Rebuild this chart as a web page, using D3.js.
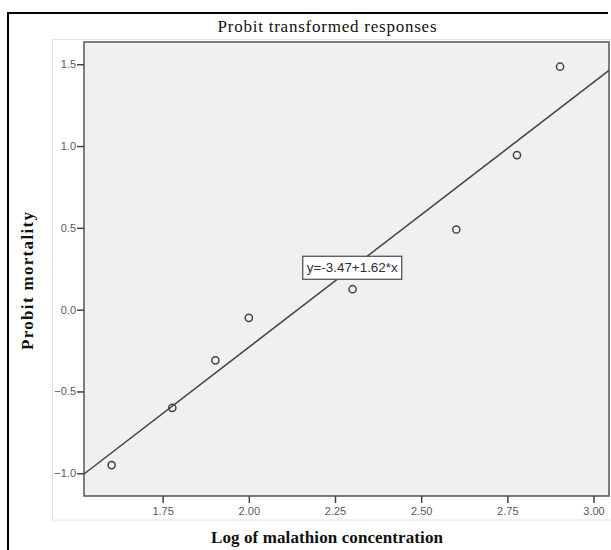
<!DOCTYPE html>
<html>
<head>
<meta charset="utf-8">
<script src="https://cdn.jsdelivr.net/npm/d3@7"></script>
<style>
	body { margin: 0; background: #fff; }
	svg { display: block; }
</style>
</head>
<body>
<svg id="chart" width="611" height="550"></svg>
<script>
"use strict"

// log10 of malathion concentration
const log_conc = [1.602, 1.778, 1.903, 2.0, 2.301, 2.602, 2.778, 2.903]
// probit transformed mortality
const probit = [-0.95, -0.60, -0.31, -0.05, 0.125, 0.49, 0.945, 1.485]

const x_ticks = [1.75, 2.00, 2.25, 2.50, 2.75, 3.00]
const y_ticks = [-1.0, -0.5, 0.0, 0.5, 1.0, 1.5]

// fitted line
const intercept = -3.47
const slope = 1.62
const fit_label = "y=-3.47+1.62*x"
const label_at = 2.3

const svg = d3.select("#chart")

const plot = { left: 84, right: 609, top: 42, bottom: 496 }

const xScale = d3.scaleLinear().domain([1.5218, 3.045]).range([plot.left, plot.right])
const yScale = d3.scaleLinear().domain([-1.139, 1.636]).range([plot.bottom, plot.top])

const serif = "'Liberation Serif', 'Times New Roman', serif"
const sans = "'Liberation Sans', Arial, sans-serif"

// outer frame (top + left only)
svg.append("line").attr("x1", 8).attr("x2", 608).attr("y1", 13).attr("y2", 13)
	.attr("stroke", "#000").attr("stroke-width", 2)
svg.append("line").attr("x1", 8).attr("x2", 8).attr("y1", 12).attr("y2", 550)
	.attr("stroke", "#000").attr("stroke-width", 2)

// light chart frame
svg.append("rect")
	.attr("x", 52.5).attr("y", 39.5).attr("width", 570).attr("height", 480.5)
	.attr("fill", "none").attr("stroke", "#e2e2e2").attr("stroke-width", 1)

// plot background
svg.append("rect")
	.attr("x", plot.left).attr("y", plot.top)
	.attr("width", plot.right - plot.left).attr("height", plot.bottom - plot.top)
	.attr("fill", "#f0f0f0").attr("stroke", "#555").attr("stroke-width", 1.5)

// title
svg.append("text")
	.attr("x", 327).attr("y", 32)
	.attr("text-anchor", "middle")
	.attr("textLength", 219).attr("lengthAdjust", "spacing")
	.style("font-family", serif)
	.style("font-size", "17px")
	.attr("fill", "#111")
	.text("Probit transformed responses")

// axes
const xAxis = d3.axisBottom(xScale).tickValues(x_ticks).tickFormat(d3.format(".2f")).tickSize(7)
const yAxis = d3.axisLeft(yScale).tickValues(y_ticks).tickFormat(d3.format(".1f")).tickSize(7)

const gx = svg.append("g")
	.attr("transform", "translate(0," + plot.bottom + ")")
	.call(xAxis)
const gy = svg.append("g")
	.attr("transform", "translate(" + plot.left + ",0)")
	.call(yAxis)

for (const g of [gx, gy]) {
	g.select(".domain").remove()
	g.selectAll(".tick line").attr("stroke", "#444").attr("stroke-width", 1.5)
	g.selectAll(".tick text")
		.attr("fill", "#5a5a5a")
		.style("font-family", sans)
		.style("font-size", "11px")
}
gx.selectAll(".tick text").attr("dy", "0.71em").attr("y", 11)
gy.selectAll(".tick text").attr("x", -8)

// axis titles
svg.append("text")
	.attr("x", 327).attr("y", 543)
	.attr("text-anchor", "middle")
	.attr("textLength", 232).attr("lengthAdjust", "spacing")
	.style("font-family", serif)
	.style("font-size", "17px")
	.style("font-weight", "bold")
	.attr("fill", "#111")
	.text("Log of malathion concentration")

svg.append("text")
	.attr("transform", "translate(33,281) rotate(-90)")
	.attr("text-anchor", "middle")
	.attr("textLength", 138).attr("lengthAdjust", "spacing")
	.style("font-family", serif)
	.style("font-size", "17px")
	.style("font-weight", "bold")
	.attr("fill", "#111")
	.text("Probit mortality")

// fit line across the x domain
const xd = xScale.domain()
svg.append("line")
	.attr("x1", xScale(xd[0])).attr("y1", yScale(intercept + slope * xd[0]))
	.attr("x2", xScale(xd[1])).attr("y2", yScale(intercept + slope * xd[1]))
	.attr("stroke", "#444").attr("stroke-width", 1.5)

// points
const data = log_conc.map((d, i) => ({ x: d, y: probit[i] }))
svg.selectAll(".pt")
	.data(data)
	.enter()
	.append("circle")
	.attr("class", "pt")
	.attr("cx", d => xScale(d.x))
	.attr("cy", d => yScale(d.y))
	.attr("r", 3.6)
	.attr("fill", "none")
	.attr("stroke", "#444")
	.attr("stroke-width", 1.5)

// equation label box sitting on the line
const lx = xScale(label_at)
const ly = yScale(intercept + slope * label_at)
const lab = svg.append("g").attr("transform", "translate(" + lx + "," + ly + ")")
lab.append("rect")
	.attr("x", -49.5).attr("y", -11.5).attr("width", 99).attr("height", 23)
	.attr("fill", "#fff").attr("stroke", "#555").attr("stroke-width", 1.3)
lab.append("text")
	.attr("text-anchor", "middle")
	.attr("dy", "0.35em")
	.attr("textLength", 91).attr("lengthAdjust", "spacingAndGlyphs")
	.style("font-family", sans)
	.style("font-size", "12.5px")
	.attr("fill", "#2e2e44")
	.text(fit_label)
</script>
</body>
</html>
